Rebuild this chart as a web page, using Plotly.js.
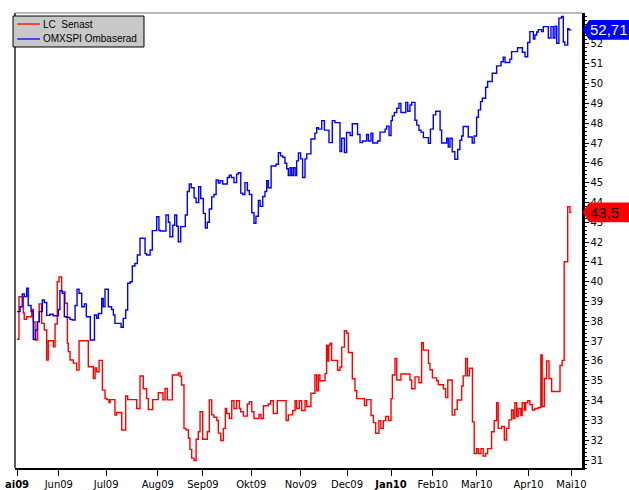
<!DOCTYPE html>
<html>
<head>
<meta charset="utf-8">
<script src="https://cdn.plot.ly/plotly-3.0.1.min.js"></script>
<style>html,body{margin:0;padding:0;background:#fff;}#chart{width:629px;height:490px;}</style>
</head>
<body>
<div id="chart"></div>
<script>
// Trading-day index (0 = first trading day of May 2009) at each step change, and value
const lcDay = [0,0.9,2.9,3.3,4.4,6.7,7.4,8.2,9.4,10.1,11.2,12.4,13.5,14.2,16.5,17.3,18.3,19.1,20.3,21.8,22.9,23.3,24.1,25.6,27.1,28.2,32.4,34.7,35.5,36.2,37.3,38.8,40.0,40.8,41.8,42.3,44.5,45.3,47.6,49.4,50.3,54.4,55.9,57.4,58.9,59.7,61.7,64.2,66.3,67.3,68.3,70.6,73.3,74.1,74.8,75.9,76.8,77.9,78.6,79.4,80.5,81.4,82.4,83.2,84.4,86.5,87.4,88.5,89.5,90.8,91.5,92.6,93.8,94.7,95.3,96.5,97.6,98.6,99.8,101.1,101.7,102.9,104.7,105.6,106.7,107.7,110.0,110.9,112.0,114.2,115.3,116.5,118.3,122.3,123.3,125.3,126.4,127.1,128.3,129.4,130.9,131.7,133.6,135.4,136.2,137.0,137.7,140.0,140.7,141.2,141.7,142.3,143.0,145.7,146.8,147.6,148.8,149.8,150.6,152.4,153.6,154.4,157.9,158.9,160.9,162.0,163.0,164.5,165.4,166.5,167.6,168.8,170.0,170.6,171.8,172.6,174.5,178.6,179.4,180.9,182.7,183.9,184.7,187.0,187.7,188.8,190.7,191.5,193.8,194.8,195.8,197.8,199.0,200.1,202.1,202.8,203.9,204.7,205.6,207.0,207.8,208.9,209.7,210.9,211.9,213.0,213.9,215.7,216.9,218.0,218.7,220.3,221.5,222.5,223.6,224.8,225.6,226.3,227.1,227.8,229.0,229.6,230.6,231.2,232.1,233.1,234.2,235.4,236.9,238.1,238.7,239.7,240.7,241.8,243.0,246.8,247.8,248.7,250.3,251.3,252.0];
const lcValue = [37.1,39.24,38.42,38.1,38.23,38.6,37.98,37.06,37.98,38.88,37.9,37.56,36.05,37.02,36.72,37.87,40.0,40.24,39.5,38.91,36.89,36.47,36.05,35.89,35.54,37.02,35.71,35.12,35.65,35.46,36.03,34.53,34.11,34.05,33.9,34.05,33.27,33.4,32.52,34.23,34.05,33.6,35.24,34.6,34.1,33.55,34.05,34.4,34.04,34.62,34.04,35.29,35.4,35.23,34.79,32.6,32.52,32.1,31.54,31.1,30.98,32.05,32.43,33.44,32.05,32.43,34.04,33.28,33.16,33.0,32.36,31.99,32.6,33.6,33.35,33.1,34.0,33.6,34.0,33.6,33.44,33.22,33.83,33.95,33.44,33.1,33.3,33.1,33.74,33.83,34.0,33.35,34.0,33.0,33.28,33.5,34.0,33.6,34.0,33.5,34.0,33.7,34.37,35.29,34.5,35.29,35.0,35.36,36.8,36.0,36.8,36.9,36.03,35.53,35.7,36.7,37.53,37.4,36.43,35.1,34.5,34.1,33.75,34.05,33.25,32.89,32.35,32.99,32.6,32.99,33.2,33.0,34.1,35.29,36.13,35.04,35.34,35.04,34.6,35.2,34.9,36.92,36.55,35.88,35.56,35.15,35.0,34.8,34.6,34.15,35.04,33.27,33.56,34.03,34.74,35.25,36.13,35.25,35.63,32.93,31.33,31.58,31.33,31.58,31.2,31.33,31.58,32.43,32.99,33.9,32.6,32.7,32.01,32.6,33.03,33.53,33.1,33.9,33.2,33.6,33.25,33.9,33.53,33.9,34.0,33.8,33.53,33.6,33.65,36.3,33.7,35.12,36.0,35.12,34.46,35.77,36.03,41.01,43.79,43.5,43.5];

const omxDay = [0,1.4,2.4,3.3,4.4,5.1,6.4,7.4,8.5,9.2,10.1,11.5,12.4,13.5,15.0,16.5,18.8,19.5,20.6,21.5,22.6,24.1,25.1,26.4,27.3,28.2,29.4,30.6,31.5,33.3,35.2,36.2,37.0,38.5,39.2,40.0,41.5,43.0,43.8,44.5,47.3,48.3,49.4,50.3,51.4,52.4,53.6,54.7,55.9,58.2,58.9,60.5,61.5,63.5,64.5,65.0,67.7,68.8,69.5,70.8,71.7,72.6,73.3,74.4,76.5,77.4,78.3,79.2,80.5,81.4,82.6,83.5,84.7,85.6,86.5,87.4,88.5,89.5,90.5,91.5,92.3,93.5,95.6,96.5,97.4,98.6,99.8,100.6,101.7,102.6,103.6,104.7,105.6,106.7,107.7,108.6,109.7,110.5,111.7,112.7,113.5,114.2,115.5,117.7,118.8,119.8,120.8,121.8,122.6,123.3,124.1,124.8,125.6,126.4,127.1,127.9,128.9,129.8,130.9,131.7,133.6,135.4,136.2,137.0,138.5,139.7,141.8,143.3,144.5,146.8,147.6,148.8,149.8,151.4,152.4,154.8,155.9,157.0,158.9,159.7,160.9,161.7,163.9,165.0,167.3,168.0,169.1,170.0,170.6,171.5,172.6,173.6,174.5,176.7,177.6,178.6,179.4,180.9,181.7,182.7,183.6,184.7,187.0,187.9,189.2,190.3,192.3,193.0,195.3,196.0,196.8,197.8,199.0,200.3,201.3,202.1,202.8,205.1,206.9,207.8,208.9,209.7,210.7,211.5,213.0,213.9,216.0,218.0,220.0,221.0,221.8,224.0,224.8,227.5,229.7,230.9,232.1,233.1,234.7,235.4,236.2,236.9,238.4,239.2,241.5,242.7,243.7,244.5,245.3,246.3,247.5,248.3,249.0,250.3,250.9,252.0];
const omxValue = [38.49,38.74,39.38,39.25,39.67,38.8,38.5,37.09,37.56,37.98,38.49,39.08,38.95,38.3,38.36,38.28,38.6,39.55,39.42,38.23,38.2,38.1,38.07,38.8,39.62,39.42,38.74,38.88,38.23,37.06,38.32,38.15,38.4,39.15,38.74,39.62,38.74,38.6,38.32,37.9,37.7,38.15,38.57,39.92,40.0,40.79,40.92,41.35,42.19,41.42,41.35,41.6,42.58,43.28,42.6,42.56,43.37,43.0,42.27,42.85,43.37,42.8,42.02,42.78,43.37,44.55,44.93,44.74,44.23,44.0,44.8,44.2,43.45,42.71,43.0,43.67,44.28,44.4,45.13,44.98,45.1,44.93,45.26,45.38,45.26,45.0,45.43,45.5,44.47,44.4,45.0,44.6,44.4,43.48,42.95,43.3,44.1,43.8,44.3,44.55,45.1,44.74,45.84,45.93,46.51,46.35,46.28,45.98,45.7,45.36,45.75,45.36,45.75,45.36,46.1,46.5,46.2,45.26,46.2,46.45,47.2,47.5,47.77,47.7,48.13,47.65,47.02,48.13,48.03,46.57,47.24,46.52,47.53,47.38,47.97,47.43,47.02,47.1,47.43,47.1,47.5,47.0,47.1,47.55,47.7,47.85,47.38,48.13,48.37,48.54,48.75,49.0,48.54,49.05,48.6,48.92,49.05,48.15,47.9,47.64,47.55,47.27,46.98,47.7,48.42,48.6,47.65,47.0,47.24,46.8,47.24,46.56,46.18,46.67,47.14,47.35,47.83,47.3,47.0,47.35,48.3,48.67,49.09,49.26,49.81,50.1,50.52,50.89,51.1,51.33,51.06,51.23,51.61,51.81,51.58,51.35,52.07,52.62,52.24,52.45,52.6,52.72,52.62,52.87,52.3,52.87,52.3,52.9,52.03,53.3,53.38,52.1,51.94,52.77,52.71,52.71];

// Month tick positions (trading-day index) and labels
const monthTickDay = [0,19,40.5,64,84.5,106.5,129,150,170,189,209,232.5,252];
const monthTickLabel = ['<b>ai09</b>','Jun09','Jul09','Aug09','Sep09','Okt09','Nov09','Dec09','<b>Jan10</b>','Feb10','Mar10','Apr10','Mai10'];

const seriesNames = ['LC\u00a0\u00a0Senast','OMXSPI Ombaserad'];
const seriesColors = ['#ff0000','#0000ff'];
const lastLabels = ['43,5','52,71'];

const FONT = 'DejaVu Sans, sans-serif';
const LFONT = 'Liberation Sans, Arial, sans-serif';
const lastLC = lcValue[lcValue.length-1];
const lastOMX = omxValue[omxValue.length-1];

function flag(v, fill){
  const h = 0.5;
  return {type:'path', xref:'paper', yref:'y', layer:'above',
    path:`M 1.0015,${v} L 1.0125,${v+h} L 1.2,${v+h} L 1.2,${v-h} L 1.0125,${v-h} Z`,
    fillcolor:fill, line:{width:0}};
}

const traces = [
  {x: lcDay, y: lcValue, name: seriesNames[0], type:'scatter', mode:'lines',
   line:{color:seriesColors[0], width:1.4, shape:'hv'}},
  {x: omxDay, y: omxValue, name: seriesNames[1], type:'scatter', mode:'lines',
   line:{color:seriesColors[1], width:1.4, shape:'hv'}}
];

// Hand-drawn legend box (paper coordinates)
const legShapes = [
  {type:'rect', xref:'paper', yref:'paper', x0:-0.0035, x1:0.2275, y0:0.9253, y1:0.9934,
   fillcolor:'#c8c8c8', line:{color:'#000', width:1}, layer:'above'},
  {type:'line', xref:'paper', yref:'paper', x0:0.0040, x1:0.0440, y0:0.9758, y1:0.9758,
   line:{color:seriesColors[0], width:1.3}, layer:'above'},
  {type:'line', xref:'paper', yref:'paper', x0:0.0040, x1:0.0440, y0:0.9429, y1:0.9429,
   line:{color:seriesColors[1], width:1.3}, layer:'above'}
];
const legAnn = [
  {xref:'paper', yref:'paper', x:0.0480, y:0.9758, xanchor:'left', yanchor:'middle', showarrow:false,
   text:seriesNames[0], font:{family:LFONT, size:10, color:'#000'}, borderpad:0},
  {xref:'paper', yref:'paper', x:0.0480, y:0.9429, xanchor:'left', yanchor:'middle', showarrow:false,
   text:seriesNames[1], font:{family:LFONT, size:10, color:'#000'}, borderpad:0}
];

const layout = {
  width:629, height:490,
  margin:{l:15, r:47, t:13, b:22, pad:0},
  paper_bgcolor:'#ffffff', plot_bgcolor:'#ffffff',
  font:{family:FONT, size:10, color:'#000'},
  showlegend:false,
  xaxis:{range:[-0.91, 256.8], tickmode:'array', tickvals:monthTickDay, ticktext:monthTickLabel,
    ticks:'outside', ticklen:6, tickwidth:1, tickcolor:'#000',
    showline:true, linecolor:'#000', linewidth:2, showgrid:false, zeroline:false,
    tickfont:{family:FONT, size:10, color:'#000'}},
  yaxis:{side:'right', range:[30.6, 53.56], tick0:31, dtick:1,
    ticks:'outside', ticklen:4, tickwidth:1, tickcolor:'#000',
    minor:{dtick:0.2, ticks:'outside', ticklen:2, tickcolor:'#000', showgrid:false},
    showline:true, linecolor:'#000', linewidth:2.5, showgrid:false, zeroline:false,
    tickfont:{family:FONT, size:10, color:'#000'}},
  shapes:[
    {type:'line', xref:'paper', yref:'paper', x0:0, x1:0, y0:0, y1:1, line:{color:'#000', width:1.3}},
    {type:'line', xref:'paper', yref:'paper', x0:0, x1:1, y0:1, y1:1, line:{color:'#777', width:1}},
    flag(lastOMX, seriesColors[1]),
    flag(lastLC, seriesColors[0])
  ].concat(legShapes),
  annotations:[
    {xref:'paper', yref:'y', x:1.012, y:lastOMX, xanchor:'left', yanchor:'middle', showarrow:false,
     text:lastLabels[1], font:{family:LFONT, size:15, color:'#ffffff'}, borderpad:0},
    {xref:'paper', yref:'y', x:1.012, y:lastLC, xanchor:'left', yanchor:'middle', showarrow:false,
     text:lastLabels[0], font:{family:LFONT, size:15, color:'#000000'}, borderpad:0}
  ].concat(legAnn)
};

Plotly.newPlot('chart', traces, layout, {displayModeBar:false, staticPlot:true});
</script>
</body>
</html>
